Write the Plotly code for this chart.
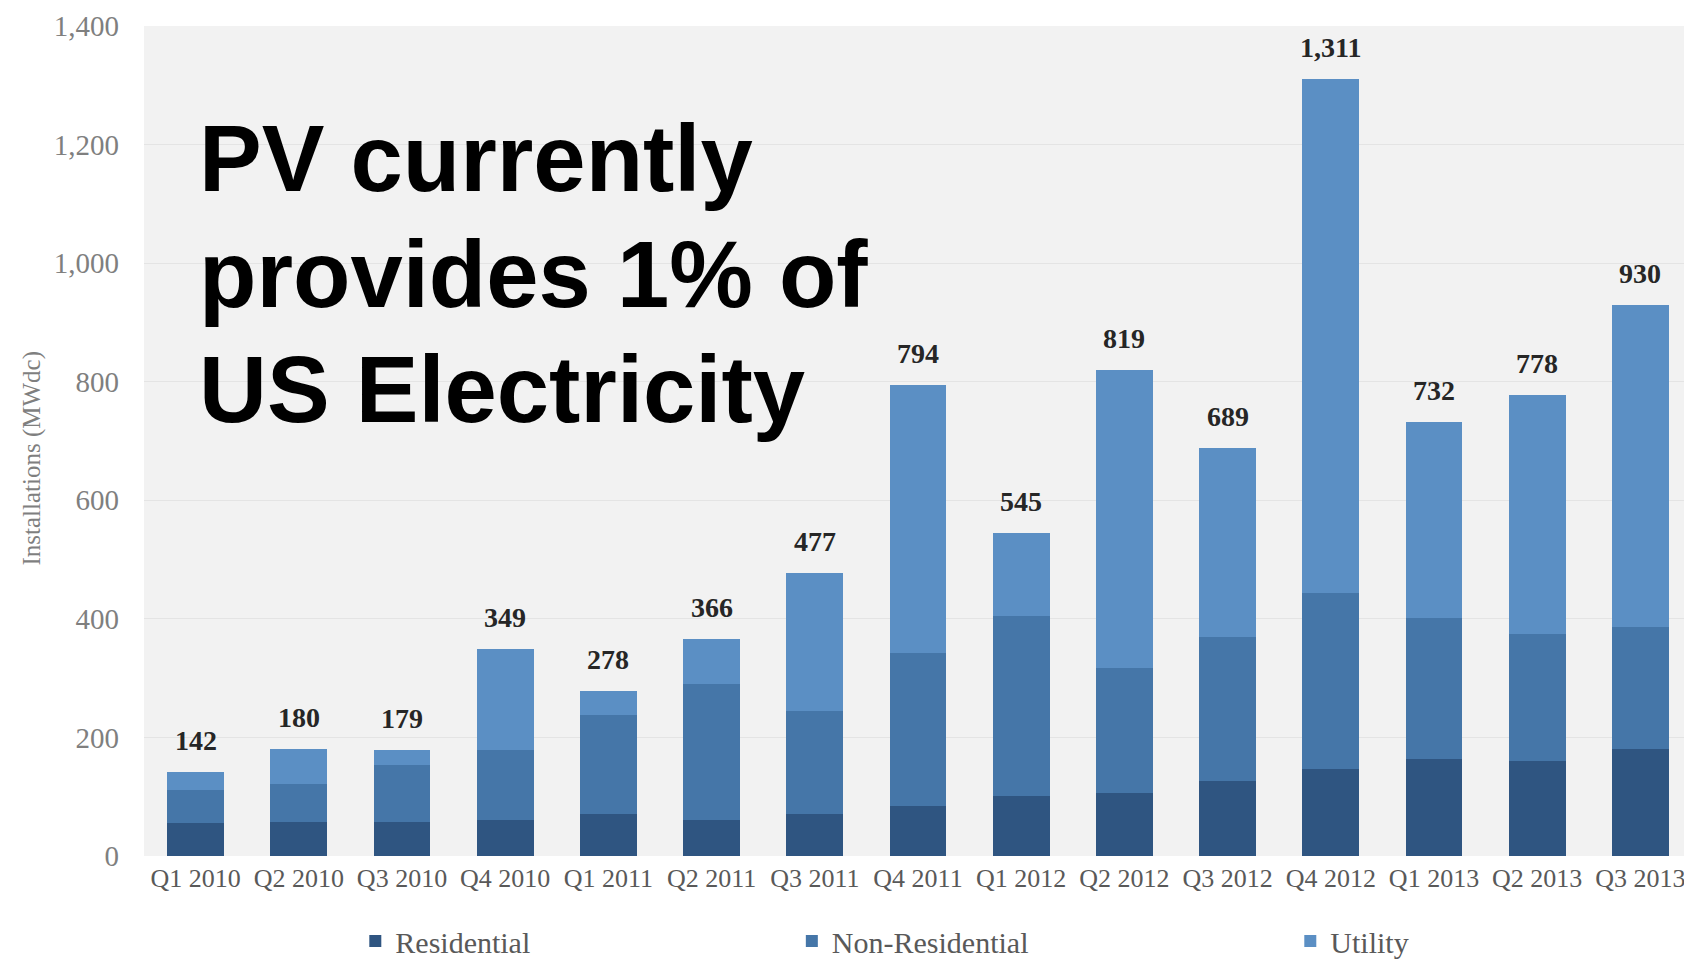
import plotly.graph_objects as go

# Quarterly US PV installations (MWdc)
quarters = ["Q1 2010", "Q2 2010", "Q3 2010", "Q4 2010", "Q1 2011", "Q2 2011",
            "Q3 2011", "Q4 2011", "Q1 2012", "Q2 2012", "Q3 2012", "Q4 2012",
            "Q1 2013", "Q2 2013", "Q3 2013"]
residential = [55, 58, 58, 61, 71, 61, 71, 85, 101, 106, 126, 146, 163, 160, 181]
non_residential = [57, 64, 95, 118, 166, 229, 174, 257, 304, 211, 243, 298, 239, 215, 206]
utility = [30, 58, 26, 170, 41, 76, 232, 452, 140, 502, 320, 867, 330, 403, 543]
totals = [r + n + u for r, n, u in zip(residential, non_residential, utility)]

y_ticks = [0, 200, 400, 600, 800, 1000, 1200, 1400]
headline = ["PV currently", "provides 1% of", "US Electricity"]

serif = "Liberation Serif, Times New Roman, serif"

fig = go.Figure()
fig.add_trace(go.Bar(x=quarters, y=residential, name="Residential", legend="legend",
                     marker=dict(color="#2f5581", line=dict(width=0))))
fig.add_trace(go.Bar(x=quarters, y=non_residential, name="Non-Residential", legend="legend2",
                     marker=dict(color="#4576a8", line=dict(width=0))))
fig.add_trace(go.Bar(x=quarters, y=utility, name="Utility", legend="legend3",
                     marker=dict(color="#5b8fc4", line=dict(width=0))))

# total labels above each stack
for q, t in zip(quarters, totals):
    fig.add_annotation(
        x=q, y=t, text=f"{t:,}", showarrow=False,
        yanchor="bottom", yshift=14,
        font=dict(family=serif, size=28, color="#262626", weight="bold")
    )

leg = dict(orientation="h", xanchor="left", yref="container", y=0.021, yanchor="middle",
           font=dict(family=serif, size=30, color="#595959"),
           bgcolor="rgba(0,0,0,0)", itemwidth=30)

# page body has an 8px margin, so the figure is a bit smaller than the window
fig.update_layout(
    width=1684, height=953,
    barmode="stack",
    bargap=0.45,
    paper_bgcolor="white",
    plot_bgcolor="#f2f2f2",
    margin=dict(l=136, r=0, t=18, b=105, autoexpand=False),
    showlegend=True,
    legend=dict(leg, x=0.1365),
    legend2=dict(leg, x=0.4185),
    legend3=dict(leg, x=0.7405),
)

fig.update_xaxes(
    range=[-0.5, len(quarters) - 0.5],
    showgrid=False, zeroline=False, showline=False,
    tickfont=dict(family=serif, size=26, color="#595959"),
    ticks="", ticklabelstandoff=4, automargin=False
)

fig.update_yaxes(
    range=[0, 1400], tickvals=y_ticks, tickformat=",",
    showgrid=True, gridcolor="#e4e4e4", gridwidth=1,
    zeroline=False, showline=False, automargin=False,
    tickfont=dict(family=serif, size=29, color="#7f7f7f"),
    ticklabelstandoff=24
)

# y-axis title, sits a little below the axis middle in the original
fig.add_annotation(
    xref="paper", yref="paper", x=-0.0723, y=0.479,
    xanchor="center", yanchor="middle", textangle=-90,
    text="Installations (MWdc)", showarrow=False,
    font=dict(family=serif, size=25, color="#7f7f7f")
)

# headline text, one annotation per line for tighter leading
for i, line in enumerate(headline):
    fig.add_annotation(
        xref="paper", yref="paper", x=0.0345, y=0.906 - i * 0.1392,
        xanchor="left", yanchor="top", align="left",
        text=line, showarrow=False,
        font=dict(family="Liberation Sans, Arial, sans-serif", size=94,
                  color="black", weight="bold")
    )

fig.write_html("out.html")
